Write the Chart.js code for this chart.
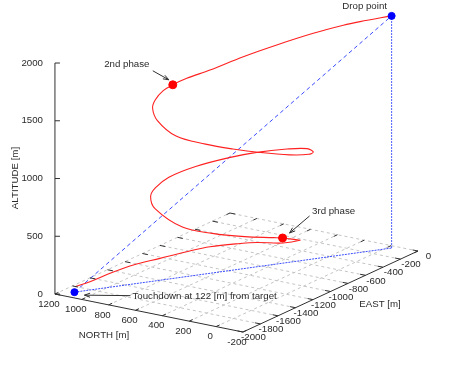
<!DOCTYPE html>
<html>
<head>
<meta charset="utf-8">
<script src="https://cdn.jsdelivr.net/npm/chart.js@4.4.1/dist/chart.umd.min.js"></script>
<style>
  body { margin: 0; background: #fff; }
  #wrap { width: 450px; height: 365px; }
</style>
</head>
<body>
<div id="wrap"><canvas id="flightChart" width="450" height="365"></canvas></div>
<script>
// canopy flight path, metres (north, east, altitude)
const north = [-30, 78, 135, 238, 363, 477, 591, 670, 718, 735, 728, 690, 596, 425, 224, 69,
  -63, -170, -194, -150, -49, 130, 335, 491, 647, 734, 744, 700, 608, 369, 179, 14, -96, -119,
  -126, -81, 16, 220, 337, 529, 652, 782, 912, 999, 1061, 1120];
const east = [-40, -235, -339, -524, -750, -957, -1163, -1307, -1393, -1476, -1577, -1667, -1756,
  -1805, -1777, -1702, -1590, -1418, -1241, -1119, -1035, -991, -1022, -1097, -1241, -1413, -1553,
  -1674, -1765, -1819, -1769, -1653, -1493, -1423, -1287, -1166, -1210, -1195, -1209, -1258, -1335,
  -1441, -1546, -1679, -1813, -1894];
const altitude = [2010, 2003, 1995, 1966, 1915, 1859, 1789, 1749, 1712, 1686, 1645, 1614, 1558,
  1481, 1449, 1417, 1378, 1323, 1271, 1238, 1214, 1153, 1087, 1031, 968, 915, 869, 848, 797, 712,
  684, 654, 615, 593, 533, 474, 443, 394, 363, 307, 262, 211, 160, 114, 74, 45];
const phase2Index = 8;
const phase3Index = 33;
const dropPoint = [-30, -40, 2010];
const touchdown = [1120, -1900, 0];

const northTicks = [-200, 0, 200, 400, 600, 800, 1000, 1200];
const eastTicks = [-2000, -1800, -1600, -1400, -1200, -1000, -800, -600, -400, -200, 0];
const altitudeTicks = [0, 500, 1000, 1500, 2000];

// view: where the origin sits and how far one metre along each axis moves
const view = { x0: 391.1, y0: 245.6, nx: -0.13429, ny: -0.027143, ex: 0.0875, ey: -0.0405, zy: -0.1155 };

function project(n, e, z) {
  return {
    x: view.x0 + n * view.nx + e * view.ex,
    y: view.y0 + n * view.ny + e * view.ey + z * view.zy,
  };
}

const nMin = northTicks[0], nMax = northTicks[northTicks.length - 1];
const eMin = eastTicks[0], eMax = eastTicks[eastTicks.length - 1];
const zMax = altitudeTicks[altitudeTicks.length - 1];

function lineSet(points, color, dash, width, order) {
  return {
    data: points,
    showLine: true,
    borderColor: color,
    borderWidth: width,
    borderDash: dash,
    pointRadius: 0,
    tension: 0,
    fill: false,
    clip: false,
    order: order,
  };
}

const datasets = [];

// markers
datasets.push({
  data: [phase2Index, phase3Index].map(i => project(north[i], east[i], altitude[i])),
  backgroundColor: "#ff0000", borderColor: "#ff0000", pointRadius: 4, clip: false, order: 0,
});
datasets.push({
  data: [project(...dropPoint), project(...touchdown)],
  backgroundColor: "#0000ff", borderColor: "#0000ff", pointRadius: 3.5, clip: false, order: 0,
});

// flight path
const path = north.map((n, i) => project(n, east[i], altitude[i]));
const pathSet = lineSet(path, "#ff2020", [], 1.1, 1);
pathSet.tension = 0.35;
datasets.push(pathSet);

// line of sight and its ground track
datasets.push(lineSet([project(...touchdown), project(...dropPoint)], "#3a4cff", [4, 3], 1, 2));
datasets.push(lineSet([project(...touchdown), project(dropPoint[0], dropPoint[1], 0)], "#3a4cff", [2, 1], 1, 2));
datasets.push(lineSet([project(dropPoint[0], dropPoint[1], 0), project(...dropPoint)], "#4a5cff", [2, 1], 1, 2));

// axes
datasets.push(lineSet([project(nMax, eMin, 0), project(nMin, eMin, 0)], "#303030", [], 1, 3));
datasets.push(lineSet([project(nMin, eMin, 0), project(nMin, eMax, 0)], "#303030", [], 1, 3));
datasets.push(lineSet([project(nMax, eMin, 0), project(nMax, eMin, zMax)], "#303030", [], 1, 3));

// ground grid
northTicks.forEach(n => {
  if (n !== nMin) datasets.push(lineSet([project(n, eMin, 0), project(n, eMax, 0)], "#c4c4c4", [3, 3], 1, 4));
});
eastTicks.forEach(e => {
  if (e !== eMin) datasets.push(lineSet([project(nMin, e, 0), project(nMax, e, 0)], "#c4c4c4", [3, 3], 1, 4));
});

const textColor = "#2a2a2a";
const fontSpec = "9.7px 'Liberation Sans', Arial, sans-serif";

function arrow(ctx, x1, y1, x2, y2) {
  const a = Math.atan2(y2 - y1, x2 - x1);
  ctx.beginPath();
  ctx.moveTo(x1, y1);
  ctx.lineTo(x2, y2);
  ctx.moveTo(x2 - 6 * Math.cos(a - 0.35), y2 - 6 * Math.sin(a - 0.35));
  ctx.lineTo(x2, y2);
  ctx.lineTo(x2 - 6 * Math.cos(a + 0.35), y2 - 6 * Math.sin(a + 0.35));
  ctx.stroke();
}

// tick marks, tick labels, axis titles and notes
const labels3d = {
  id: "labels3d",
  afterDatasetsDraw(chart) {
    const ctx = chart.ctx;
    const sx = chart.scales.x, sy = chart.scales.y;
    const px = p => ({ x: sx.getPixelForValue(p.x), y: sy.getPixelForValue(p.y) });
    ctx.save();
    ctx.strokeStyle = "#303030";
    ctx.lineWidth = 1;
    ctx.font = fontSpec;
    ctx.fillStyle = textColor;

    const seg = (a, b) => {
      ctx.beginPath();
      ctx.moveTo(a.x, a.y);
      ctx.lineTo(b.x, b.y);
      ctx.stroke();
    };

    // altitude axis
    ctx.textAlign = "right";
    ctx.textBaseline = "middle";
    altitudeTicks.forEach(z => {
      const p = px(project(nMax, eMin, z));
      seg(p, { x: p.x + 5, y: p.y });
      ctx.fillText(String(z), p.x - 12, p.y);
    });

    // north axis (front) and its mirror
    ctx.textAlign = "center";
    northTicks.forEach(n => {
      seg(px(project(n, eMin, 0)), px(project(n, eMin + 40, 0)));
      seg(px(project(n, eMax, 0)), px(project(n, eMax - 40, 0)));
      const p = px(project(n, eMin, 0));
      ctx.fillText(String(n), p.x - 6, p.y + 10);
    });

    // east axis (front) and its mirror
    eastTicks.forEach(e => {
      seg(px(project(nMin, e, 0)), px(project(nMin + 40, e, 0)));
      seg(px(project(nMax, e, 0)), px(project(nMax - 40, e, 0)));
      const p = px(project(nMin, e, 0));
      ctx.fillText(String(e), p.x + 10.5, p.y + 5.5);
    });

    // axis titles
    ctx.fillText("NORTH [m]", 104, 335);
    ctx.fillText("EAST [m]", 380, 304);
    ctx.save();
    ctx.translate(15, 178);
    ctx.rotate(-Math.PI / 2);
    ctx.fillText("ALTITUDE [m]", 0, 0);
    ctx.restore();

    // notes
    const drop = px(project(...dropPoint));
    ctx.fillText("Drop point", drop.x - 27, drop.y - 10);

    const p2 = px(project(north[phase2Index], east[phase2Index], altitude[phase2Index]));
    ctx.fillText("2nd phase", p2.x - 46, p2.y - 20);
    arrow(ctx, p2.x - 20, p2.y - 14, p2.x - 4, p2.y - 5);

    const p3 = px(project(north[phase3Index], east[phase3Index], altitude[phase3Index]));
    ctx.fillText("3rd phase", p3.x + 51, p3.y - 27);
    arrow(ctx, p3.x + 27, p3.y - 22, p3.x + 7, p3.y - 5);

    const td = px(project(...touchdown));
    ctx.textAlign = "left";
    ctx.fillText("Touchdown at 122 [m] from target", td.x + 58, td.y + 4);
    arrow(ctx, td.x + 56, td.y + 3.5, td.x + 10, td.y + 3);
    ctx.restore();
  },
};

new Chart(document.getElementById("flightChart"), {
  type: "scatter",
  data: { datasets: datasets },
  options: {
    responsive: false,
    animation: false,
    events: [],
    layout: { padding: 0, autoPadding: false },
    scales: {
      x: { type: "linear", min: 0, max: 450, display: false },
      y: { type: "linear", min: 0, max: 365, reverse: true, display: false },
    },
    plugins: { legend: { display: false }, tooltip: { enabled: false } },
  },
  plugins: [labels3d],
});
</script>
</body>
</html>
